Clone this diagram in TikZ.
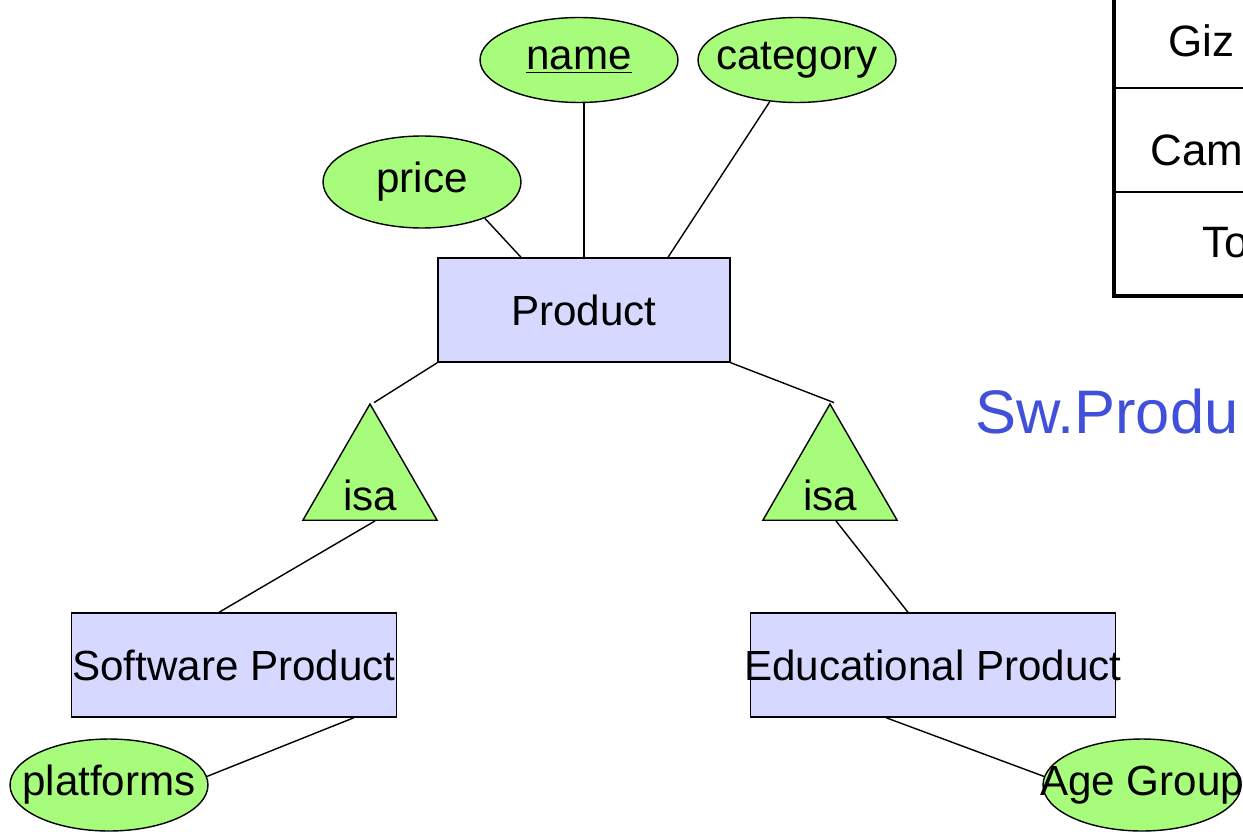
\documentclass[tikz,border=0pt]{standalone}
\usepackage{fontspec}
\setmainfont{Liberation Sans}
\usetikzlibrary{shapes.geometric,positioning,calc}
\definecolor{entityfill}{HTML}{D6D8FF}
\definecolor{attrfill}{HTML}{A8FC7C}
\definecolor{swblue}{HTML}{4150DA}

% text that may run past its shape
\newcommand{\overtext}[1]{\makebox[0pt]{#1}}

\begin{document}
\begin{tikzpicture}[
    x=0.02cm, y=-0.02cm,
    font=\fontsize{24}{28}\selectfont,
    entity/.style={rectangle, draw=black, fill=entityfill, minimum height=2.08cm, inner sep=0pt, line width=0.8pt},
    attribute/.style={ellipse, draw=black, fill=attrfill, minimum width=3.96cm, minimum height=1.7cm, inner sep=0pt, line width=0.8pt},
    isatri/.style={regular polygon, regular polygon sides=3, draw=black, fill=attrfill, minimum size=3.1cm, inner sep=0pt, line width=0.8pt},
    link/.style={line width=0.8pt},
    cell/.style={anchor=base west, inner sep=0pt, font=\fontsize{25}{30}\selectfont}
]
\useasboundingbox (0,0) rectangle (1243,831);
\clip (0,0) rectangle (1243,831);

% === ENTITIES ===
\node[entity, minimum width=5.84cm] (product) at (584,310) {\overtext{Product}};
\node[entity, minimum width=6.5cm] (swprod) at (234,665) {\overtext{Software Product}};
\node[entity, minimum width=7.3cm] (eduprod) at (933,665) {\overtext{Educational Product}};

% === ATTRIBUTES ===
\node[attribute] (name) at (579,60) {\overtext{\underline{name}}};
\node[attribute] (category) at (797,60) {\overtext{category}};
\node[attribute, minimum height=1.84cm] (price) at (422,182) {\overtext{price}};
\node[attribute, minimum height=1.84cm] (platforms) at (109,785) {\overtext{platforms}};
\node[attribute, minimum height=1.84cm] (agegroup) at (1142,785) {\overtext{Age Group}};

% === ISA ===
\node[isatri] (isaL) at (370,481.5) {};
\node[isatri] (isaR) at (830,481.5) {};
\node[inner sep=0pt, above=0.2cm of isaL.south] (isaLtext) {isa};
\node[inner sep=0pt, above=0.2cm of isaR.south] (isaRtext) {isa};

% === CONNECTIONS ===
\draw[link] (price.-30) -- ($(product.north)+(-63,0)$);
\draw[link] (product.north) -- (product.north |- name.south);
\draw[link] (category) -- ($(product.north)+(84,0)$);
\draw[link] (product.south west) -- ($(isaL.corner 1)+(4,0)$);
\draw[link] (product.south east) -- ($(isaR.corner 1)+(4,0)$);
\draw[link] ($(isaL.south)+(5,0)$) -- ($(swprod.north)+(-15,0)$);
\draw[link] ($(isaR.south)+(6,0)$) -- ($(eduprod.north)+(-25,0)$);
\draw[link] (platforms.5) -- ($(swprod.south)+(120,0)$);
\draw[link] ($(eduprod.south)+(-47,0)$) -- (agegroup.175);

% === TABLE (cut off at the edge) ===
\draw[link] (1114,88) -- (1260,88);
\draw[link] (1114,192) -- (1260,192);
\draw[line width=2.8pt] (1114,-20) -- (1114,296) -- (1260,296);
\node[cell] (cellGiz) at (1168,57) {Giz};
\node[cell] (cellCam) at (1150,166) {Cam};
\node[cell] (cellTo) at (1202,257) {To};

% === SQL TEXT ===
\node[anchor=base west, inner sep=0pt, text=swblue, font=\fontsize{35}{42}\selectfont] (swquery) at (975,433) {Sw.Produ};
\end{tikzpicture}
\end{document}
